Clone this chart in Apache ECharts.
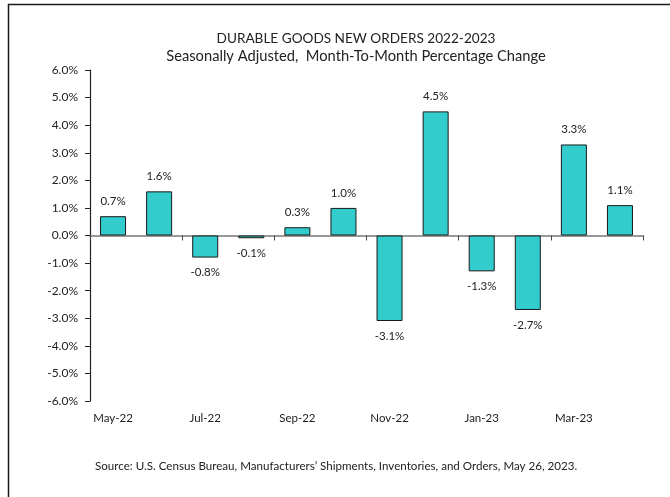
<!DOCTYPE html>
<html>
<head>
<meta charset="utf-8">
<script src="https://cdn.jsdelivr.net/npm/echarts@6/dist/echarts.min.js"></script>
<style>
  html, body { margin: 0; padding: 0; background: #fff; }
  #chart { width: 670px; height: 497px; }
</style>
</head>
<body>
<div id="chart"></div>
<script>
// months shown on the category axis
const months = ['May-22', 'Jun-22', 'Jul-22', 'Aug-22', 'Sep-22', 'Oct-22',
  'Nov-22', 'Dec-22', 'Jan-23', 'Feb-23', 'Mar-23', 'Apr-23'];
// month-to-month % change
const pctChange = [0.7, 1.6, -0.8, -0.1, 0.3, 1.0, -3.1, 4.5, -1.3, -2.7, 3.3, 1.1];
const yMin = -6;
const yMax = 6;
const yStep = 1;

const titleText = 'DURABLE GOODS NEW ORDERS 2022-2023';
const subText = 'Seasonally Adjusted,  Month-To-Month Percentage Change';
const sourceText = 'Source: U.S. Census Bureau, Manufacturers\u2019 Shipments, Inventories, and Orders, May 26, 2023.';

const font = 'Lato, "Open Sans", sans-serif';
const chart = echarts.init(document.getElementById('chart'));

const option = {
  animation: false,
  textStyle: { fontFamily: font },
  graphic: [
    {
      type: 'rect',
      shape: { x: 8.5, y: 4.5, width: 700, height: 520 },
      style: { fill: 'none', stroke: '#1a1a1a', lineWidth: 1.5 },
      silent: true,
    },
    {
      type: 'text',
      left: 95,
      top: 460,
      style: { text: sourceText, fill: '#222', font: '11.6px ' + font },
    },
  ],
  title: {
    text: titleText,
    subtext: subText,
    left: 351,
    textAlign: 'center',
    top: 27,
    itemGap: 3,
    textStyle: { fontFamily: font, fontSize: 13.6, fontWeight: 'normal', color: '#222' },
    subtextStyle: { fontFamily: font, fontSize: 14.7, color: '#222' },
  },
  grid: { left: 90, right: 27, top: 70, bottom: 96, containLabel: false },
  xAxis: [
    {
      type: 'category',
      data: months,
      axisLine: { onZero: true, lineStyle: { color: '#777', width: 1.5 } },
      axisTick: { show: true, interval: 1, length: 5, lineStyle: { color: '#444' } },
      axisLabel: { show: false },
    },
    {
      type: 'category',
      data: months,
      position: 'bottom',
      axisLine: { show: false, onZero: false },
      axisTick: { show: false },
      axisLabel: { interval: 1, margin: 11, fontSize: 11.5, color: '#222', fontFamily: font },
    },
  ],
  yAxis: {
    type: 'value',
    min: yMin,
    max: yMax,
    interval: yStep,
    axisLine: { show: true, lineStyle: { color: '#222', width: 1.2 } },
    axisTick: { show: true, length: 5, lineStyle: { color: '#222' } },
    splitLine: { show: false },
    axisLabel: {
      fontSize: 12,
      color: '#222',
      margin: 12,
      fontFamily: font,
      formatter: (v) => v.toFixed(1) + '%',
    },
  },
  series: [{
    type: 'bar',
    xAxisIndex: 0,
    data: pctChange.map((v) => ({
      value: v,
      label: { position: v >= 0 ? 'top' : 'bottom' },
    })),
    barWidth: 26,
    itemStyle: { color: '#33CCCC', borderColor: '#1a1a1a', borderWidth: 1 },
    label: {
      show: true,
      distance: 9,
      fontSize: 11.5,
      color: '#222',
      fontFamily: font,
      formatter: (p) => p.value.toFixed(1) + '%',
    },
  }],
};

chart.setOption(option);
</script>
</body>
</html>
